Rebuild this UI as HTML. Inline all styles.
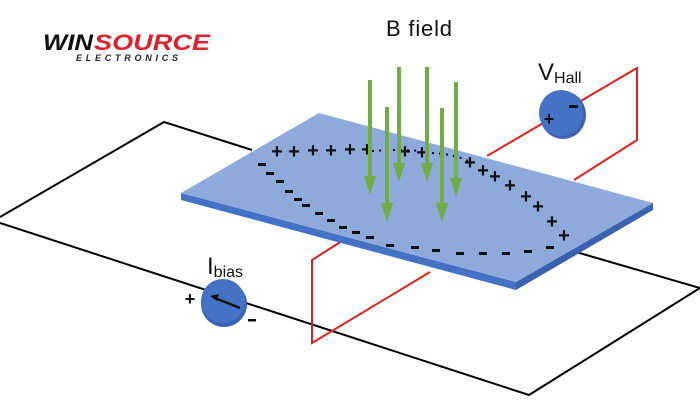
<!DOCTYPE html>
<html><head><meta charset="utf-8"><style>
html,body{margin:0;padding:0;background:#fff;}
svg{display:block;}
text{font-family:"Liberation Sans",sans-serif;}
</style></head><body>
<svg width="700" height="400" viewBox="0 0 700 400" xmlns="http://www.w3.org/2000/svg">
<polyline points="252,150 164,122 0,217" fill="none" stroke="#000" stroke-width="2"/>
<polyline points="0,223 529,395 700,288" fill="none" stroke="#000" stroke-width="2"/>
<line x1="576" y1="252" x2="700" y2="288" stroke="#000" stroke-width="2"/>
<polyline points="342,241 312,260 312,343 430,272" fill="none" stroke="#e02020" stroke-width="2"/>
<polyline points="487,156 637,68 637,140 574,180" fill="none" stroke="#e02020" stroke-width="2"/>
<polygon points="181,193 516,282 516,290 181,200" fill="#4472c4"/>
<polygon points="516,282 653,203 653,210 516,290" fill="#3a62b0"/>
<polygon points="181,193 319,113 653,203 516,282" fill="#8eaadb"/>
<g font-size="20" font-weight="bold" fill="#111" text-anchor="middle">
<text x="277" y="158">+</text><text x="294" y="158">+</text><text x="313" y="157">+</text><text x="331" y="157">+</text><text x="350" y="156">+</text><text x="367" y="156">+</text>
<text x="405" y="158">+</text><text x="422" y="159">+</text>
<text x="470" y="169">+</text><text x="483" y="177">+</text><text x="495" y="183">+</text><text x="510" y="192">+</text><text x="526" y="203">+</text><text x="538" y="213">+</text><text x="552" y="228">+</text><text x="564" y="242">+</text>
</g>
<g fill="#111">
<rect x="258" y="163" width="8" height="3"/><rect x="266" y="172" width="8" height="3"/><rect x="276" y="180" width="8" height="3"/><rect x="285" y="190" width="8" height="3"/><rect x="294" y="198" width="8" height="3"/><rect x="302" y="204" width="8" height="3"/><rect x="315" y="212" width="8" height="3"/><rect x="327" y="219" width="8" height="3"/><rect x="339" y="226" width="8" height="3"/><rect x="352" y="231" width="8" height="3"/><rect x="366" y="236" width="8" height="3"/><rect x="386" y="244" width="8" height="3"/><rect x="411" y="246" width="8" height="3"/><rect x="432" y="249" width="8" height="3"/><rect x="456" y="252" width="8" height="3"/><rect x="479" y="252" width="8" height="3"/><rect x="502" y="252" width="8" height="3"/><rect x="524" y="250" width="8" height="3"/><rect x="546" y="246" width="8" height="3"/>
</g>
<path d="M372,151 Q400,149 420,151 M432,153 Q455,154 470,162" fill="none" stroke="#111" stroke-width="2" stroke-dasharray="2,5"/>
<g stroke="#70ad47" stroke-width="4" fill="#70ad47">
<line x1="370" y1="80" x2="370" y2="178"/><polygon points="364,176 376,176 370,195" stroke="none"/>
<line x1="399" y1="67" x2="399" y2="165"/><polygon points="393,163 405,163 399,182" stroke="none"/>
<line x1="427" y1="67" x2="427" y2="165"/><polygon points="421,163 433,163 427,182" stroke="none"/>
<line x1="456" y1="82" x2="456" y2="180"/><polygon points="450,178 462,178 456,197" stroke="none"/>
<line x1="387" y1="107" x2="387" y2="205"/><polygon points="381,203 393,203 387,222" stroke="none"/>
<line x1="442" y1="108" x2="442" y2="205"/><polygon points="436,203 448,203 442,222" stroke="none"/>
</g>
<ellipse cx="563" cy="115" rx="23" ry="24" fill="#3b63b5"/>
<ellipse cx="561" cy="113" rx="22" ry="23" fill="#4472c4"/>
<text x="549" y="125" font-size="18" font-weight="bold" fill="#111" text-anchor="middle">+</text>
<rect x="569" y="105" width="9" height="3" fill="#111"/>
<ellipse cx="224" cy="304" rx="23" ry="23" fill="#3b63b5"/>
<ellipse cx="223" cy="301" rx="22" ry="22" fill="#4472c4"/>
<line x1="215" y1="298" x2="240" y2="308" stroke="#111" stroke-width="2.5"/>
<polygon points="210,296 219,294 217,301" fill="#111"/>
<text x="190" y="305" font-size="18" font-weight="bold" fill="#111" text-anchor="middle">+</text>
<rect x="248" y="319" width="8" height="2.5" fill="#111"/>
<text x="386" y="36" font-size="22" fill="#111" textLength="66">B field</text>
<text x="538" y="80" font-size="24" fill="#111">V<tspan font-size="16" dy="3">Hall</tspan></text>
<text x="207" y="274" font-size="24" fill="#111">I<tspan font-size="16" dy="3">bias</tspan></text>
<text x="43" y="50" font-size="22" font-weight="bold" font-style="italic" fill="#111" textLength="50" lengthAdjust="spacingAndGlyphs">WIN</text>
<text x="94" y="50" font-size="22" font-weight="bold" font-style="italic" fill="#e0202a" textLength="116" lengthAdjust="spacingAndGlyphs">SOURCE</text>
<text x="76" y="61" font-size="9" font-weight="bold" font-style="italic" fill="#222" textLength="102">ELECTRONICS</text>
</svg>
</body></html>
